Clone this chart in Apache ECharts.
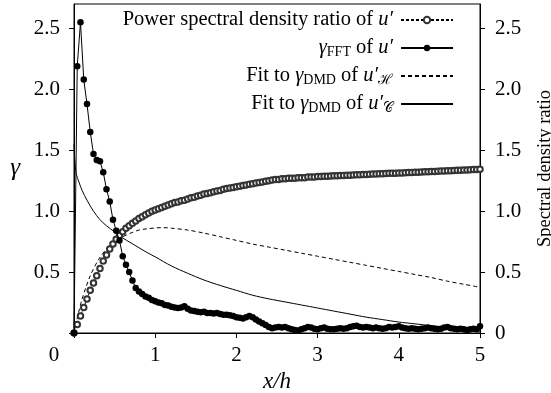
<!DOCTYPE html>
<html><head><meta charset="utf-8">
<script src="https://cdn.jsdelivr.net/npm/echarts@6/dist/echarts.min.js"></script>
<style>html,body{margin:0;padding:0;background:#fff}#c{width:551px;height:393px}</style>
</head><body><div id="c"></div>
<script>
// Shared x grid (x/h) for the sampled series
const xs = [
0,0.04,0.08,0.12,0.16,0.20,0.24,0.28,0.32,0.36,
0.40,0.44,0.48,0.52,0.56,0.60,0.64,0.68,0.72,0.76,
0.80,0.84,0.88,0.92,0.96,1.00,1.04,1.08,1.12,1.16,
1.20,1.24,1.28,1.32,1.36,1.40,1.44,1.48,1.52,1.56,
1.60,1.64,1.68,1.72,1.76,1.80,1.84,1.88,1.92,1.96,
2.00,2.04,2.08,2.12,2.16,2.20,2.24,2.28,2.32,2.36,
2.40,2.44,2.48,2.52,2.56,2.60,2.64,2.68,2.72,2.76,
2.80,2.84,2.88,2.92,2.96,3.00,3.04,3.08,3.12,3.16,
3.20,3.24,3.28,3.32,3.36,3.40,3.44,3.48,3.52,3.56,
3.60,3.64,3.68,3.72,3.76,3.80,3.84,3.88,3.92,3.96,
4.00,4.04,4.08,4.12,4.16,4.20,4.24,4.28,4.32,4.36,
4.40,4.44,4.48,4.52,4.56,4.60,4.64,4.68,4.72,4.76,
4.80,4.84,4.88,4.92,4.96,5.00];

// Power spectral density ratio of u' (right axis)
const psdRatio = [
0,0.07,0.14,0.21,0.28,0.35,0.41,0.47,0.53,0.59,
0.64,0.69,0.73,0.77,0.80,0.83,0.86,0.88,0.90,0.92,
0.94,0.955,0.97,0.985,1.0,1.01,1.02,1.03,1.04,1.05,
1.06,1.07,1.075,1.085,1.09,1.10,1.11,1.115,1.125,1.13,
1.14,1.145,1.15,1.16,1.165,1.17,1.18,1.185,1.19,1.195,
1.20,1.205,1.21,1.215,1.22,1.225,1.23,1.235,1.24,1.245,
1.25,1.255,1.26,1.26,1.265,1.265,1.27,1.27,1.27,1.275,
1.275,1.275,1.28,1.28,1.28,1.285,1.285,1.286,1.287,1.288,
1.29,1.291,1.292,1.293,1.294,1.295,1.297,1.298,1.299,1.30,
1.301,1.302,1.304,1.305,1.306,1.307,1.308,1.31,1.311,1.312,
1.313,1.314,1.316,1.317,1.318,1.319,1.32,1.322,1.323,1.324,
1.325,1.326,1.328,1.329,1.33,1.331,1.332,1.334,1.335,1.336,
1.337,1.338,1.34,1.341,1.342,1.344];

// gamma_FFT of u'
const gammaFFT = [
0,2.19,2.55,2.08,1.88,1.65,1.47,1.42,1.41,1.32,
1.18,1.08,0.93,0.84,0.76,0.63,0.56,0.50,0.43,0.37,
0.34,0.32,0.30,0.29,0.27,0.26,0.25,0.245,0.23,0.225,
0.215,0.21,0.205,0.21,0.22,0.20,0.185,0.18,0.175,0.17,
0.175,0.165,0.165,0.16,0.165,0.155,0.15,0.15,0.145,0.14,
0.13,0.125,0.12,0.13,0.14,0.13,0.11,0.095,0.08,0.065,
0.05,0.04,0.045,0.05,0.045,0.05,0.04,0.03,0.025,0.02,
0.03,0.04,0.05,0.045,0.035,0.03,0.04,0.045,0.035,0.03,
0.03,0.035,0.04,0.035,0.04,0.05,0.055,0.06,0.05,0.045,
0.05,0.045,0.04,0.045,0.04,0.035,0.04,0.05,0.045,0.05,
0.055,0.045,0.04,0.035,0.04,0.035,0.03,0.035,0.04,0.045,
0.04,0.035,0.03,0.035,0.045,0.05,0.04,0.035,0.03,0.035,
0.03,0.025,0.03,0.035,0.03,0.055];

// Fit to gamma_DMD of u'_H (dashed)
const fitHx = [0,0.05,0.1,0.15,0.2,0.3,0.4,0.5,0.6,0.7,0.8,0.9,1.0,1.1,1.2,1.4,1.6,1.8,2.0,2.2,2.4,2.6,2.8,3.0,3.2,3.4,3.6,3.8,4.0,4.2,4.4,4.6,4.8,5.0];
const fitHy = [0,0.15,0.28,0.38,0.47,0.60,0.69,0.75,0.79,0.82,0.845,0.855,0.862,0.865,0.86,0.845,0.82,0.79,0.76,0.73,0.705,0.68,0.655,0.63,0.605,0.58,0.555,0.53,0.505,0.48,0.455,0.425,0.40,0.375];

// Fit to gamma_DMD of u'_C (solid)
const fitCx = [0,0.01,0.03,0.06,0.1,0.16,0.24,0.32,0.4,0.5,0.6,0.7,0.8,0.9,1.0,1.2,1.4,1.6,1.8,2.0,2.2,2.4,2.6,2.8,3.0,3.2,3.4,3.6,3.8,4.0,4.2,4.4,4.6,4.8,5.0];
const fitCy = [1.55,1.42,1.30,1.24,1.17,1.09,1.0,0.93,0.88,0.83,0.78,0.74,0.70,0.66,0.625,0.55,0.49,0.435,0.39,0.35,0.31,0.28,0.255,0.23,0.205,0.18,0.155,0.13,0.11,0.09,0.075,0.06,0.048,0.038,0.03];

const xTicks = [0,1,2,3,4,5];

const FONT = 'Liberation Serif';
const zip = (a, b) => a.map((v, i) => [v, b[i]]);

const legendText = {
  'psd': 'Power spectral density ratio of {i|u′}',
  'fft': '{g|γ}{s|FFT} of {i|u′}',
  'fitH': 'Fit to {g|γ}{s|DMD} of {i|u′}{s|ℋ}',
  'fitC': 'Fit to {g|γ}{s|DMD} of {i|u′}{s|𝒞}'
};

const chart = echarts.init(document.getElementById('c'), null, {renderer: 'canvas'});
chart.setOption({
  animation: false,
  backgroundColor: '#fff',
  textStyle: {fontFamily: FONT, color: '#000'},
  grid: {left: 74, right: 71, top: 4, bottom: 60, show: true, borderColor: '#000', borderWidth: 1,
    containLabel: false, outerBoundsMode: 'none'},
  legend: {
    orient: 'vertical', right: 92, top: 4, align: 'right',
    itemWidth: 52, itemHeight: 8, itemGap: 6,
    data: [
      {name: 'psd'},
      {name: 'fft'},
      {name: 'fitH', itemStyle: {opacity: 0}},
      {name: 'fitC', itemStyle: {opacity: 0}}
    ],
    formatter: n => legendText[n],
    textStyle: {
      fontFamily: FONT, fontSize: 20.5, color: '#000', lineHeight: 22, padding: [0, 3, 0, 0],
      rich: {
        i: {fontFamily: FONT, fontStyle: 'italic', fontSize: 20.5, lineHeight: 22},
        g: {fontFamily: FONT, fontStyle: 'italic', fontSize: 20.5, lineHeight: 22},
        s: {fontFamily: FONT, fontSize: 14, lineHeight: 13, verticalAlign: 'bottom'}
      }
    }
  },
  xAxis: {
    type: 'value', min: 0, max: 5, interval: 1,
    name: 'x/h', nameLocation: 'middle', nameGap: 34,
    nameTextStyle: {fontFamily: FONT, fontStyle: 'italic', fontSize: 23, color: '#000'},
    axisLine: {lineStyle: {color: '#000', width: 1}},
    axisTick: {show: true, inside: false, length: 5, lineStyle: {color: '#000'}},
    splitLine: {show: false},
    axisLabel: {
      fontFamily: FONT, fontSize: 21, color: '#000', margin: 12,
      customValues: xTicks,
      formatter: v => v === 0 ? '{z|0}' : String(v),
      rich: {z: {fontFamily: FONT, fontSize: 21, padding: [0, 40, 0, 0]}}
    }
  },
  yAxis: [{
    type: 'value', min: 0, max: 2.7, interval: 0.5, position: 'left',
    name: 'γ', nameLocation: 'middle', nameGap: 54, nameRotate: 0,
    nameTextStyle: {fontFamily: FONT, fontStyle: 'italic', fontSize: 25, color: '#000'},
    axisLine: {show: true, lineStyle: {color: '#000'}},
    axisTick: {show: true, length: 5, lineStyle: {color: '#000'}},
    splitLine: {show: false},
    axisLabel: {fontFamily: FONT, fontSize: 21, color: '#000', margin: 14,
      formatter: v => v === 0 ? '' : v.toFixed(1), showMaxLabel: false}
  }, {
    type: 'value', min: 0, max: 2.7, interval: 0.5, position: 'right',
    name: 'Spectral density ratio', nameLocation: 'middle', nameGap: 56, nameRotate: 90,
    nameMoveOverlap: false,
    nameTextStyle: {fontFamily: FONT, fontSize: 18.5, color: '#000'},
    axisLine: {show: true, lineStyle: {color: '#000'}},
    axisTick: {show: true, length: 5, lineStyle: {color: '#000'}},
    splitLine: {show: false},
    axisLabel: {fontFamily: FONT, fontSize: 21, color: '#000', margin: 15,
      formatter: v => v === 0 ? '0' : v.toFixed(1), showMaxLabel: false}
  }],
  series: [{
    name: 'psd', type: 'line', yAxisIndex: 1, data: zip(xs, psdRatio),
    symbol: 'emptyCircle', symbolSize: 5.5, showSymbol: true,
    lineStyle: {color: '#000', width: 1, type: [3, 2]},
    itemStyle: {color: '#333', borderColor: '#333', borderWidth: 0.8}, z: 3
  }, {
    name: 'fft', type: 'line', yAxisIndex: 0, data: zip(xs, gammaFFT),
    symbol: 'circle', symbolSize: 6.5, showSymbol: true,
    lineStyle: {color: '#000', width: 1},
    itemStyle: {color: '#000'}, z: 4
  }, {
    name: 'fitH', type: 'line', yAxisIndex: 0, data: zip(fitHx, fitHy),
    symbol: 'none', smooth: 0.3,
    lineStyle: {color: '#000', width: 1, type: [4, 3]},
    itemStyle: {color: '#000'}, z: 2
  }, {
    name: 'fitC', type: 'line', yAxisIndex: 0, data: zip(fitCx, fitCy),
    symbol: 'none', smooth: 0.3,
    lineStyle: {color: '#000', width: 1},
    itemStyle: {color: '#000'}, z: 2
  }]
});
</script></body></html>
